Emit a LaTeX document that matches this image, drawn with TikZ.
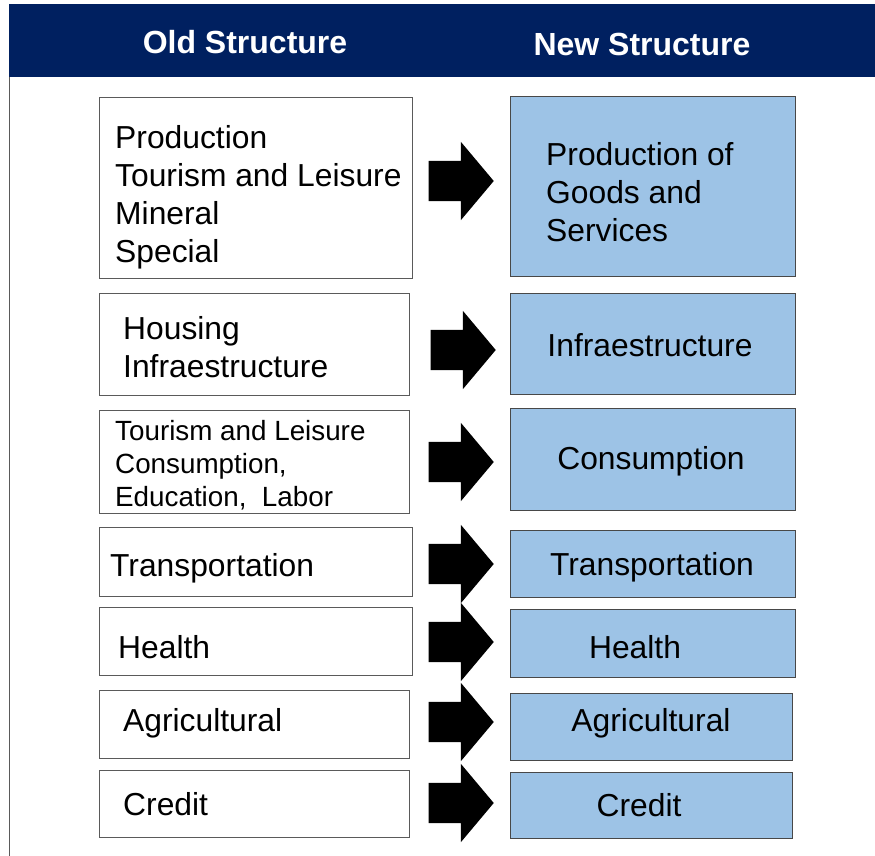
\documentclass[tikz,border=0pt]{standalone}
\usepackage{fontspec}
\setmainfont{Liberation Sans}
\usetikzlibrary{positioning, shapes.arrows}

\definecolor{headblue}{RGB}{0,32,96}
\definecolor{newfill}{RGB}{157,195,230}
\definecolor{boxline}{RGB}{90,90,90}

\tikzset{
  oldbox/.style={draw=boxline, line width=0.9pt, fill=white, anchor=north west, inner sep=0pt},
  newbox/.style={draw=boxline!80!black, line width=0.9pt, fill=newfill, anchor=north west, inner sep=0pt},
  boxtext/.style={inner sep=0pt, align=left, font=\fontsize{31.8}{38}\selectfont},
  headtext/.style={text=white, inner sep=0pt, font=\fontsize{32}{36}\selectfont\bfseries},
  bigarrow/.style={single arrow, fill=black, draw=none, inner xsep=0pt, inner ysep=20pt,
    minimum height=65pt, minimum width=78pt, single arrow head extend=19pt,
    single arrow tip angle=100, anchor=tip},
}

\begin{document}
\begin{tikzpicture}[x=1pt, y=-1pt]
  \useasboundingbox (0,0) rectangle (875,856);
  % header band
  \fill[headblue] (9,4) rectangle (875,77);
  \draw[boxline, line width=0.9pt] (9,77) -- (9,856);
  \node[headtext] (hold) at (245,42) {Old Structure};
  \node[headtext] (hnew) at (642,44) {New Structure};

  % old structure
  \node[oldbox, minimum width=313pt, minimum height=181pt] (o1) at (99,97) {};
  \node[oldbox, minimum width=310pt, minimum height=102pt] (o2) at (99,293) {};
  \node[oldbox, minimum width=310pt, minimum height=103pt] (o3) at (99,410) {};
  \node[oldbox, minimum width=313pt, minimum height=69pt] (o4) at (99,527) {};
  \node[oldbox, minimum width=313pt, minimum height=68pt] (o5) at (99,607) {};
  \node[oldbox, minimum width=310pt, minimum height=68pt] (o6) at (99,690) {};
  \node[oldbox, minimum width=310pt, minimum height=67pt] (o7) at (99,770) {};

  \node[boxtext, anchor=west] (o1t) at (115,197) {Production\\Tourism and Leisure\\Mineral\\Special};
  \node[boxtext, anchor=west] (o2t) at (123,347) {Housing\\Infraestructure};
  \node[boxtext, anchor=west, font=\fontsize{27.8}{33}\selectfont] (o3t) at (115,465)
    {Tourism and Leisure\\Consumption,\\Education,\ \ Labor};
  \node[boxtext, anchor=west] (o4t) at (110,568) {Transportation};
  \node[boxtext, anchor=west] (o5t) at (118,647) {Health};
  \node[boxtext, anchor=west] (o6t) at (123,723) {Agricultural};
  \node[boxtext, anchor=west] (o7t) at (123,804) {Credit};

  % new structure
  \node[newbox, minimum width=285pt, minimum height=180pt] (n1) at (510,96) {};
  \node[newbox, minimum width=285pt, minimum height=101pt] (n2) at (510,293) {};
  \node[newbox, minimum width=285pt, minimum height=102pt] (n3) at (510,408) {};
  \node[newbox, minimum width=285pt, minimum height=67pt] (n4) at (510,530) {};
  \node[newbox, minimum width=285pt, minimum height=68pt] (n5) at (510,609) {};
  \node[newbox, minimum width=282pt, minimum height=67pt] (n6) at (510,693) {};
  \node[newbox, minimum width=282pt, minimum height=66pt] (n7) at (510,772) {};

  \node[boxtext, anchor=west] (n1t) at (546,192) {Production of\\Goods and\\Services};
  \node[boxtext] (n2t) at (650,345) {Infraestructure};
  \node[boxtext] (n3t) at (651,461) {Consumption};
  \node[boxtext] (n4t) at (652,567) {Transportation};
  \node[boxtext] (n5t) at (635,647) {Health};
  \node[boxtext] (n6t) at (651,723) {Agricultural};
  \node[boxtext] (n7t) at (639,805) {Credit};

  % arrows
  \node[bigarrow] (a1) at (494,181) {};
  \node[bigarrow] (a2) at (496,350) {};
  \node[bigarrow] (a3) at (494,462) {};
  \node[bigarrow] (a4) at (494,564) {};
  \node[bigarrow] (a5) at (494,642) {};
  \node[bigarrow] (a6) at (494,722) {};
  \node[bigarrow] (a7) at (494,803) {};
\end{tikzpicture}
\end{document}
